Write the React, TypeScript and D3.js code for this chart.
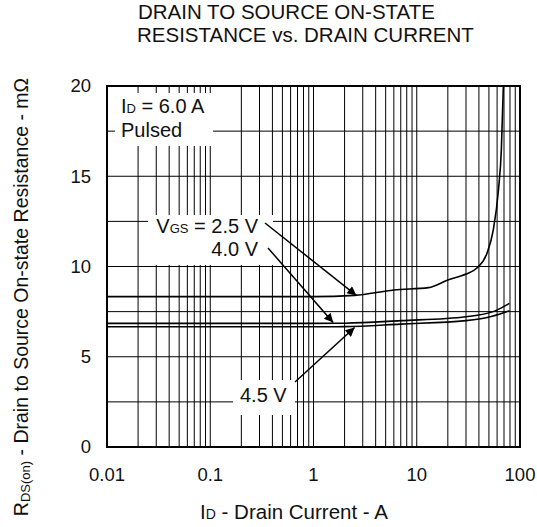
import * as d3 from "d3";

// values
const xTicks = [0.01, 0.1, 1, 10, 100];
const xTickLabels = ["0.01", "0.1", "1", "10", "100"];
const yTicks = [0, 5, 10, 15, 20];

const vgs25Id = [0.01, 0.1, 1, 2.5, 6, 13, 20, 30, 38, 48, 55, 62, 66, 69];
const vgs25R = [8.33, 8.33, 8.33, 8.4, 8.7, 8.83, 9.25, 9.58, 9.9, 10.75, 12.0, 14.3, 16.5, 20];

const vgs40Id = [0.01, 0.1, 1, 2, 7, 30, 55, 79];
const vgs40R = [6.85, 6.85, 6.85, 6.86, 7.0, 7.22, 7.5, 7.96];

const vgs45Id = [0.01, 0.1, 1, 2, 7, 30, 55, 79];
const vgs45R = [6.66, 6.66, 6.66, 6.67, 6.81, 7.0, 7.26, 7.55];

const FONT = "'Liberation Sans', Arial, sans-serif";

export default function App() {
  const width = 537;
  const height = 527;
  const margin = { top: 86, right: 17, bottom: 80, left: 107 };
  const innerW = width - margin.left - margin.right;
  const innerH = height - margin.top - margin.bottom;

  const x = d3.scaleLog().domain([0.01, 100]).range([margin.left, margin.left + innerW]);
  const y = d3.scaleLinear().domain([0, 20]).range([margin.top + innerH, margin.top]);

  // minor grid positions 1..9 per decade
  const vGrid: number[] = [];
  for (let e = -2; e < 2; e++) {
    for (let k = 1; k <= 9; k++) vGrid.push(k * Math.pow(10, e));
  }
  vGrid.push(100);
  const hGrid = d3.range(0, 20.01, 2.5);

  const line = d3
    .line<[number, number]>()
    .x((d) => x(d[0]))
    .y((d) => y(d[1]))
    .curve(d3.curveMonotoneX);

  const series = [
    vgs25Id.map((v, i) => [v, vgs25R[i]] as [number, number]),
    vgs40Id.map((v, i) => [v, vgs40R[i]] as [number, number]),
    vgs45Id.map((v, i) => [v, vgs45R[i]] as [number, number]),
  ];

  // arrows: label end -> curve point
  const arrows = [
    { from: [265, 223], to: [x(2.6), y(8.4)] },
    { from: [268, 248], to: [x(1.55), y(6.9)] },
    { from: [295, 382], to: [x(2.5), y(6.62)] },
  ];

  const clipId = "plotclip";

  return (
    <svg width={width} height={height} style={{ position: "absolute", left: 0, top: 0 }} fontFamily={FONT}>
      <defs>
        <clipPath id={clipId}>
          <rect x={margin.left} y={margin.top} width={innerW} height={innerH} />
        </clipPath>
        <marker id="arr" viewBox="0 0 10 10" refX="10" refY="5" markerWidth="15" markerHeight="9" markerUnits="userSpaceOnUse" orient="auto">
          <path d="M0,0 L10,5 L0,10 z" fill="#000" />
        </marker>
      </defs>
      <rect width={width} height={height} fill="#fff" />

      {/* title */}
      <text x={138} y={19} fontSize={20.5} fill="#111">
        DRAIN TO SOURCE ON-STATE
      </text>
      <text x={137} y={42} fontSize={20.5} fill="#111">
        RESISTANCE vs. DRAIN CURRENT
      </text>

      {/* grid */}
      {vGrid.map((v) => (
        <line key={"v" + v} x1={x(v)} x2={x(v)} y1={margin.top} y2={margin.top + innerH} stroke="#000" strokeWidth={1} />
      ))}
      {hGrid.map((v) => (
        <line key={"h" + v} x1={margin.left} x2={margin.left + innerW} y1={y(v)} y2={y(v)} stroke="#000" strokeWidth={1} />
      ))}

      {/* label backgrounds */}
      <rect x={115} y={93} width={98} height={53} fill="#fff" />
      <rect x={148} y={215} width={125} height={50} fill="#fff" />
      <rect x={233} y={380} width={62} height={35} fill="#fff" />

      {/* curves */}
      <g clipPath={`url(#${clipId})`}>
        {series.map((s, i) => (
          <path key={i} d={line(s) || ""} fill="none" stroke="#000" strokeWidth={1.6} />
        ))}
      </g>

      {/* frame */}
      <rect x={margin.left} y={margin.top} width={innerW} height={innerH} fill="none" stroke="#000" strokeWidth={2} />

      {/* annotations */}
      <text x={121} y={113} fontSize={20} fill="#111">
        I<tspan fontSize={13}>D</tspan> = 6.0 A
      </text>
      <text x={121} y={137} fontSize={20} fill="#111">Pulsed</text>

      <text x={258} y={233} textAnchor="end" fontSize={20} fill="#111">
        V<tspan fontSize={13}>GS</tspan> = 2.5 V
      </text>
      <text x={258} y={256} textAnchor="end" fontSize={20} fill="#111">4.0 V</text>
      <text x={240} y={402} fontSize={20} fill="#111">4.5 V</text>

      {arrows.map((a, i) => (
        <line key={"a" + i} x1={a.from[0]} y1={a.from[1]} x2={a.to[0]} y2={a.to[1]} stroke="#000" strokeWidth={1.5} markerEnd="url(#arr)" />
      ))}

      {/* axes labels */}
      {yTicks.map((t) => (
        <text key={"yt" + t} x={91} y={y(t)} dy="0.35em" textAnchor="end" fontSize={18.5} fill="#111">
          {t}
        </text>
      ))}
      {xTicks.map((t, i) => (
        <text key={"xt" + t} x={x(t)} y={481} textAnchor="middle" fontSize={18.5} fill="#111">
          {xTickLabels[i]}
        </text>
      ))}

      <text x={294} y={519} textAnchor="middle" fontSize={20.5} fill="#111">
        I<tspan fontSize={14}>D</tspan> - Drain Current - A
      </text>
      <text transform="translate(28,297) rotate(-90)" textAnchor="middle" fontSize={19.5} fill="#111">
        R<tspan fontSize={13} dy={2}>DS(on)</tspan>
        <tspan dy={-2}> - Drain to Source On-state Resistance - mΩ</tspan>
      </text>
    </svg>
  );
}
